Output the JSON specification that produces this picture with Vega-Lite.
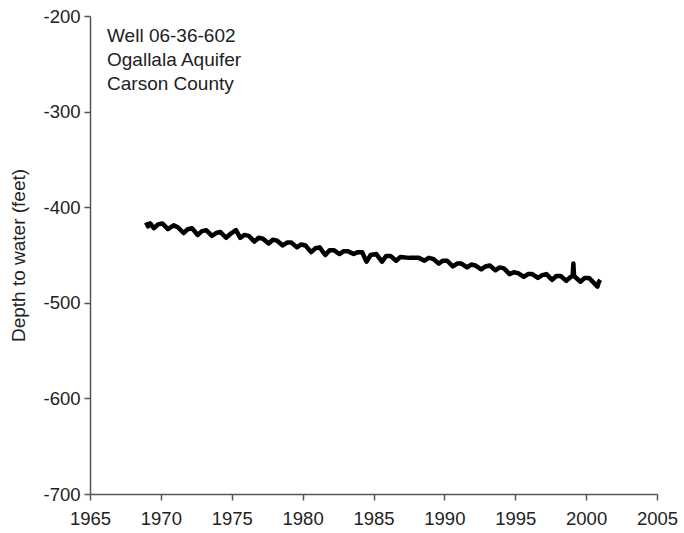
{
  "$schema": "https://vega.github.io/schema/vega-lite/v6.json",
  "width": 567,
  "height": 478,
  "autosize": "none",
  "padding": {"left": 90, "top": 16, "right": 27, "bottom": 39},
  "background": "white",
  "config": {
    "view": {"stroke": null},
    "font": "Liberation Sans",
    "axis": {
      "grid": false,
      "domainColor": "#555555",
      "domainWidth": 1.5,
      "tickColor": "#555555",
      "tickWidth": 1.5,
      "tickSize": 6,
      "labelColor": "#222222",
      "labelFont": "Liberation Sans",
      "labelFontSize": 18.5,
      "labelFlush": false,
      "titleFont": "Liberation Sans",
      "titleFontSize": 19,
      "titleFontWeight": "normal",
      "titleColor": "#222222"
    }
  },
  "datasets": {
    "well": [
      {"year": 1968.95, "depth": -416},
      {"year": 1969.1, "depth": -420},
      {"year": 1969.25, "depth": -417},
      {"year": 1969.5, "depth": -422},
      {"year": 1969.8, "depth": -418},
      {"year": 1970.1, "depth": -417},
      {"year": 1970.5, "depth": -423},
      {"year": 1970.9, "depth": -419},
      {"year": 1971.2, "depth": -421},
      {"year": 1971.6, "depth": -427},
      {"year": 1971.9, "depth": -423},
      {"year": 1972.2, "depth": -422},
      {"year": 1972.6, "depth": -429},
      {"year": 1972.9, "depth": -425},
      {"year": 1973.2, "depth": -424},
      {"year": 1973.6, "depth": -430},
      {"year": 1973.9, "depth": -427},
      {"year": 1974.2, "depth": -426},
      {"year": 1974.6, "depth": -432},
      {"year": 1974.9, "depth": -428},
      {"year": 1975.2, "depth": -425},
      {"year": 1975.3, "depth": -424},
      {"year": 1975.6, "depth": -432},
      {"year": 1975.9, "depth": -429},
      {"year": 1976.2, "depth": -430},
      {"year": 1976.6, "depth": -436},
      {"year": 1976.9, "depth": -432},
      {"year": 1977.2, "depth": -433},
      {"year": 1977.6, "depth": -438},
      {"year": 1977.9, "depth": -434},
      {"year": 1978.2, "depth": -435},
      {"year": 1978.6, "depth": -440},
      {"year": 1978.9, "depth": -437},
      {"year": 1979.2, "depth": -437},
      {"year": 1979.6, "depth": -442},
      {"year": 1979.9, "depth": -439},
      {"year": 1980.2, "depth": -440},
      {"year": 1980.6, "depth": -447},
      {"year": 1980.9, "depth": -443},
      {"year": 1981.2, "depth": -442},
      {"year": 1981.6, "depth": -450},
      {"year": 1981.9, "depth": -445},
      {"year": 1982.2, "depth": -445},
      {"year": 1982.6, "depth": -449},
      {"year": 1982.9, "depth": -446},
      {"year": 1983.2, "depth": -446},
      {"year": 1983.6, "depth": -449},
      {"year": 1983.9, "depth": -447},
      {"year": 1984.2, "depth": -447},
      {"year": 1984.5, "depth": -457},
      {"year": 1984.8, "depth": -450},
      {"year": 1985.2, "depth": -449},
      {"year": 1985.6, "depth": -457},
      {"year": 1985.9, "depth": -451},
      {"year": 1986.2, "depth": -451},
      {"year": 1986.6, "depth": -456},
      {"year": 1986.9, "depth": -452},
      {"year": 1987.5, "depth": -453},
      {"year": 1988.2, "depth": -453},
      {"year": 1988.6, "depth": -456},
      {"year": 1988.9, "depth": -453},
      {"year": 1989.2, "depth": -454},
      {"year": 1989.6, "depth": -459},
      {"year": 1989.9, "depth": -456},
      {"year": 1990.2, "depth": -456},
      {"year": 1990.6, "depth": -462},
      {"year": 1990.9, "depth": -459},
      {"year": 1991.2, "depth": -459},
      {"year": 1991.6, "depth": -463},
      {"year": 1991.9, "depth": -460},
      {"year": 1992.2, "depth": -461},
      {"year": 1992.6, "depth": -465},
      {"year": 1992.9, "depth": -462},
      {"year": 1993.2, "depth": -461},
      {"year": 1993.6, "depth": -466},
      {"year": 1993.9, "depth": -463},
      {"year": 1994.2, "depth": -464},
      {"year": 1994.6, "depth": -470},
      {"year": 1994.9, "depth": -468},
      {"year": 1995.2, "depth": -469},
      {"year": 1995.6, "depth": -473},
      {"year": 1995.9, "depth": -470},
      {"year": 1996.2, "depth": -470},
      {"year": 1996.6, "depth": -474},
      {"year": 1996.9, "depth": -471},
      {"year": 1997.2, "depth": -470},
      {"year": 1997.6, "depth": -476},
      {"year": 1997.9, "depth": -472},
      {"year": 1998.2, "depth": -472},
      {"year": 1998.6, "depth": -477},
      {"year": 1998.9, "depth": -473},
      {"year": 1999.05, "depth": -472},
      {"year": 1999.1, "depth": -459},
      {"year": 1999.15, "depth": -472},
      {"year": 1999.6, "depth": -478},
      {"year": 1999.9, "depth": -474},
      {"year": 2000.2, "depth": -474},
      {"year": 2000.6, "depth": -480},
      {"year": 2000.8, "depth": -483},
      {"year": 2000.9, "depth": -478},
      {"year": 2001.0, "depth": -476}
    ],
    "label": [
      {"year": 1966.2, "depth": -212, "text": "Well 06-36-602\nOgallala Aquifer\nCarson County"}
    ]
  },
  "layer": [
    {
      "data": {"name": "well"},
      "mark": {"type": "line", "color": "black", "strokeWidth": 4.5, "strokeJoin": "round"},
      "encoding": {
        "x": {
          "field": "year", "type": "quantitative",
          "scale": {"domain": [1965, 2005], "nice": false, "zero": false},
          "axis": {"title": null, "values": [1965, 1970, 1975, 1980, 1985, 1990, 1995, 2000, 2005], "labelExpr": "toString(datum.value)", "labelPadding": 9}
        },
        "y": {
          "field": "depth", "type": "quantitative",
          "scale": {"domain": [-700, -200], "nice": false, "zero": false},
          "axis": {"title": "Depth to water (feet)", "values": [-700, -600, -500, -400, -300, -200], "labelExpr": "toString(datum.value)", "labelPadding": 4, "titlePadding": 14}
        }
      }
    },
    {
      "data": {"name": "label"},
      "mark": {"type": "text", "align": "left", "baseline": "top", "lineBreak": "\n", "lineHeight": 24, "fontSize": 19, "font": "Liberation Sans", "color": "#222222"},
      "encoding": {
        "x": {"field": "year", "type": "quantitative"},
        "y": {"field": "depth", "type": "quantitative"},
        "text": {"field": "text"}
      }
    }
  ]
}
